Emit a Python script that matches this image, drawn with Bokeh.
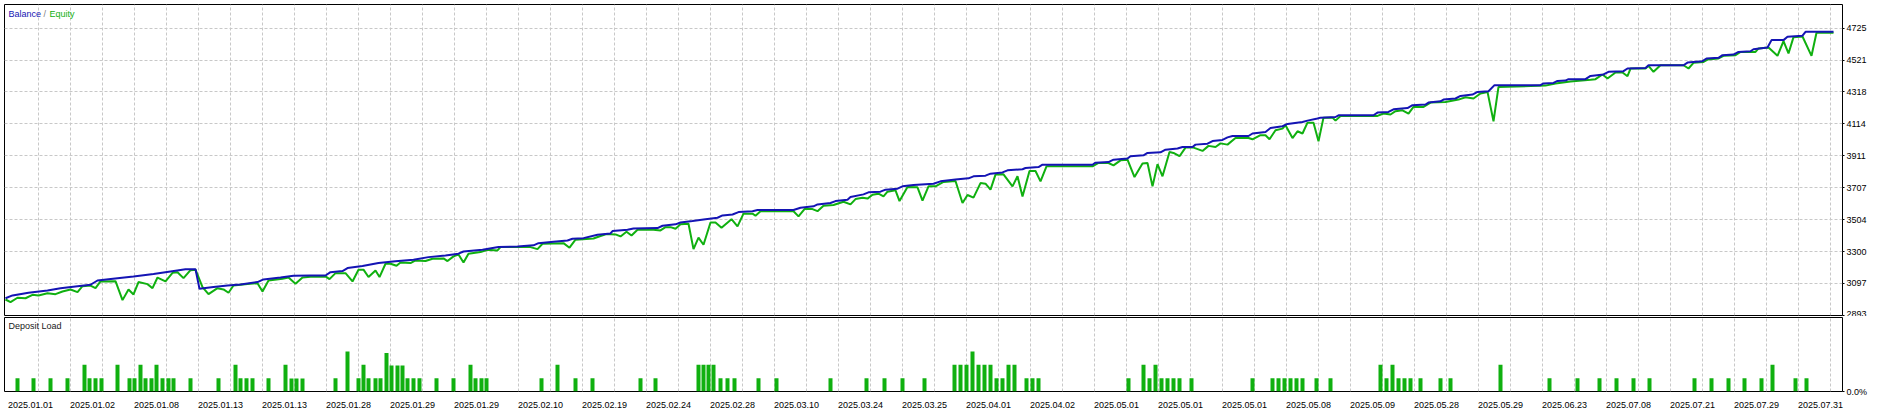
from bokeh.plotting import figure
from bokeh.models import Range1d, FixedTicker, Label
from bokeh.layouts import column
from bokeh.embed import file_html
from bokeh.resources import INLINE

# ---------------- data ----------------
balance_x = [5, 12, 28, 47, 60, 77, 90, 97, 117, 133, 153, 170, 185, 195, 199, 213, 227, 240, 257, 263, 280, 293, 310,
             325, 330, 342, 347, 362, 378, 395, 413, 428, 445, 458, 463, 482, 498, 517, 533, 538, 553, 567, 572, 583, 597, 610,
             612, 627, 633, 657, 662, 675, 680, 692, 705, 717, 722, 732, 738, 752, 757, 793, 800, 813, 817, 830, 835, 847, 850,
             863, 868, 880, 885, 897, 902, 913, 933,
             940, 955, 968, 973, 985, 990, 1002, 1007, 1022, 1025, 1038, 1042, 1092, 1095, 1108, 1113, 1127, 1130, 1143, 1147,
             1160, 1165, 1177, 1182, 1192, 1195, 1207, 1212, 1222, 1227, 1232,
             1248, 1252, 1265, 1270, 1282, 1287, 1302, 1307, 1317, 1320, 1335, 1338, 1373, 1377, 1388, 1393, 1407, 1412, 1425,
             1428, 1440, 1443, 1455, 1460, 1472, 1477, 1488, 1494, 1540, 1543, 1553, 1557, 1565, 1568,
             1585, 1590, 1603, 1608, 1623, 1627, 1645, 1648, 1683, 1687, 1702, 1706, 1718, 1722, 1733, 1738, 1750, 1753, 1767,
             1771, 1783, 1787, 1802, 1805, 1833]
balance_y = [3003, 3021, 3038, 3053, 3067, 3080, 3089, 3116, 3131, 3142, 3157, 3174, 3188, 3188, 3063, 3074, 3084, 3091, 3106, 3123, 3135, 3146, 3148,
             3148, 3169, 3176, 3195, 3208, 3227, 3238, 3248, 3265, 3276, 3287, 3301, 3312, 3329, 3333, 3340, 3354, 3363, 3371, 3382, 3386, 3408, 3416,
             3431, 3440, 3448, 3450, 3465, 3474, 3486, 3495, 3507, 3516, 3531, 3537, 3552, 3557, 3565, 3565, 3580, 3589, 3601, 3610, 3622, 3631, 3648,
             3665, 3678, 3682, 3695, 3701, 3716, 3725, 3733,
             3748, 3759, 3767, 3780, 3784, 3797, 3805, 3818, 3825, 3833, 3839, 3854, 3854, 3867, 3871, 3886, 3893, 3908, 3914, 3929,
             3933, 3950, 3957, 3967, 3967, 3982, 3988, 4005, 4012, 4028, 4037,
             4037, 4053, 4063, 4088, 4099, 4114, 4126, 4135, 4148, 4154, 4158, 4169, 4169, 4186, 4190, 4207, 4215, 4233, 4237,
             4250, 4258, 4269, 4276, 4292, 4301, 4318, 4322, 4361, 4361, 4372, 4375, 4388, 4390, 4399,
             4399, 4420, 4429, 4446, 4450, 4467, 4471, 4488, 4488, 4505, 4514, 4531, 4535, 4552, 4556, 4573, 4577, 4590, 4601,
             4648, 4648, 4669, 4676, 4701, 4701]

equity_x = [5, 10, 17, 25, 32, 38, 47, 55, 62, 70, 77, 82, 90, 95, 100, 115, 122, 128, 133, 138, 147, 152, 157, 165, 172, 177,
            183, 190, 195, 202, 208, 217, 223, 228, 233, 247, 257, 262, 268, 282, 288, 295, 302, 310,
            325, 329, 335, 345, 352, 358, 363, 368, 375, 379, 385, 390, 396, 400, 410, 415, 425, 432, 443, 447, 453, 458, 463,
            468, 480, 487, 497, 500, 530, 537, 542, 563, 569, 575, 593, 600, 606, 615, 620,
            626, 631, 637, 653, 660, 665, 670, 675, 680, 688, 693, 698, 703, 710, 715, 721, 731, 737, 743, 752, 755, 760, 793,
            798, 804, 812, 817, 823, 833, 843, 850, 855, 862, 867, 872, 878, 883, 887, 895, 899, 907, 917, 922, 928,
            935, 943, 955, 962, 967, 973, 980, 985, 990, 995, 1003, 1012, 1017, 1022, 1029, 1035, 1040, 1046, 1092, 1098, 1108,
            1113, 1120, 1127, 1134, 1142, 1147, 1152, 1157, 1162, 1169, 1173, 1179, 1185, 1193, 1202, 1208, 1215, 1220, 1227, 1235,
            1248, 1252, 1260, 1265, 1269, 1275, 1282, 1285, 1292, 1297, 1302, 1307, 1313, 1318, 1323, 1332, 1335, 1340, 1377,
            1383, 1390, 1395, 1402, 1408, 1413, 1423, 1430, 1445, 1458, 1465, 1473, 1480, 1487, 1493, 1498, 1530,
            1545, 1555, 1570, 1590,
            1595, 1602, 1607, 1615, 1622, 1627, 1630, 1645, 1648, 1653, 1660, 1683, 1688, 1693, 1703, 1707, 1718, 1723, 1735,
            1740, 1755, 1758, 1768, 1777, 1783, 1788, 1793, 1802, 1811, 1816, 1833]
equity_y = [2995, 2978, 3006, 3003, 3025, 3021, 3035, 3029, 3046, 3059, 3042, 3080, 3084, 3067, 3110, 3112, 2991, 3059, 3027, 3106, 3093, 3067, 3135, 3110, 3165, 3169,
            3131, 3182, 3185, 3074, 3029, 3067, 3059, 3038, 3084, 3093, 3099, 3046, 3116, 3127, 3135, 3095, 3135, 3140,
            3142, 3125, 3163, 3163, 3110, 3185, 3185, 3138, 3180, 3138, 3223, 3223, 3210, 3231, 3227, 3244, 3240, 3255, 3257, 3240, 3270, 3282, 3231,
            3287, 3297, 3312, 3308, 3329, 3329, 3316, 3350, 3354, 3325, 3376, 3384, 3400, 3412, 3410, 3397,
            3427, 3403, 3440, 3440, 3435, 3456, 3456, 3446, 3474, 3478, 3316, 3389, 3344, 3486, 3486, 3452, 3507, 3461, 3542, 3542, 3529, 3557, 3557,
            3525, 3571, 3571, 3558, 3593, 3597, 3618, 3601, 3635, 3644, 3638, 3663, 3669, 3652, 3682, 3691, 3622, 3712, 3710, 3625, 3716,
            3716, 3744, 3750, 3610, 3661, 3644, 3737, 3733, 3695, 3791, 3793, 3716, 3780, 3652, 3814, 3814, 3748, 3844, 3844, 3865, 3865,
            3850, 3882, 3886, 3775, 3861, 3865, 3716, 3857, 3780, 3935, 3929, 3908, 3963, 3963, 3942, 3974, 3967, 3990, 3982, 4024,
            4024, 4016, 4042, 4042, 4016, 4074, 4084, 4106, 4024, 4067, 4053, 4122, 4122, 4004, 4154, 4154, 4135, 4165, 4165,
            4180, 4174, 4195, 4201, 4180, 4222, 4222, 4250, 4254, 4269, 4284, 4276, 4308, 4318, 4131, 4350, 4355,
            4358, 4372, 4385, 4395,
            4399, 4429, 4403, 4442, 4442, 4418, 4467, 4467, 4484, 4446, 4488, 4488, 4467, 4503, 4509, 4524, 4531, 4548, 4552,
            4573, 4573, 4595, 4601, 4548, 4642, 4563, 4667, 4671, 4548, 4695, 4695]

load_x = [17, 33, 50, 67, 84, 89, 95, 101, 117, 129, 134, 140, 145, 151, 156, 162, 168, 173, 190, 218, 235, 240, 246, 252,
          268, 285, 291, 296, 302, 335, 347, 358, 363, 368, 375, 380, 386, 391, 397, 402, 407, 413, 419, 436, 453, 470, 475,
          481, 486,
          541, 557, 575, 592, 640, 655, 698, 703, 708, 713, 720, 727, 734, 758, 776, 830, 866, 884, 902, 924,
          954, 960, 966, 972, 978, 984, 990, 996, 1002, 1008, 1014, 1026, 1032, 1038,
          1128, 1143, 1149, 1155, 1161, 1167, 1173, 1179, 1191,
          1252, 1272, 1278, 1284, 1290, 1296, 1302, 1316, 1330,
          1380, 1386, 1392, 1398, 1404, 1410, 1420, 1440, 1450, 1500,
          1549, 1577, 1599, 1616, 1633, 1649, 1694, 1711, 1728, 1744, 1761, 1772, 1795, 1806]
load_pct = [9, 9, 9, 9, 18, 9, 9, 9, 18, 9, 9, 18, 9, 9, 18, 9, 9, 9, 9, 9, 18, 9, 9, 9,
            9, 18, 8.7, 8.7, 8.7, 9, 27, 9, 18, 9, 9, 9, 26, 17.5, 17.5, 17.5, 9, 9, 9, 9, 9, 18, 9,
            9, 9,
            9, 18, 9, 9, 9, 9, 18, 18, 18, 18, 9, 9, 9, 9, 9, 9, 9, 9, 9, 9,
            18, 18, 18, 27, 18, 18, 18, 9, 9, 18, 18, 9, 9, 9,
            9, 18, 9, 18, 9, 9, 9, 9, 9,
            9, 9, 9, 9, 9, 9, 9, 9, 9,
            18, 9, 18, 9, 9, 9, 9, 9, 9, 18,
            9, 9, 9, 9, 9, 9, 9, 9, 9, 9, 9, 18, 9, 9]

y_ticks = [2893, 3097, 3300, 3504, 3707, 3911, 4114, 4318, 4521, 4725]
x_labels = ["2025.01.01", "2025.01.02", "2025.01.08", "2025.01.13", "2025.01.13", "2025.01.28", "2025.01.29",
            "2025.01.29", "2025.02.10", "2025.02.19", "2025.02.24", "2025.02.28", "2025.03.10", "2025.03.24",
            "2025.03.25", "2025.04.01", "2025.04.02", "2025.05.01", "2025.05.01", "2025.05.01", "2025.05.08",
            "2025.05.09", "2025.05.28", "2025.05.29", "2025.06.23", "2025.07.08", "2025.07.21", "2025.07.29",
            "2025.07.31"]

# ---------------- style ----------------
FONT = "Liberation Sans"
FS = "9px"
BLUE = "#1414B4"
GREEN = "#10B010"
GRID = "#C8C8C8"

grid_x = [37.7 + 32 * k for k in range(57)]
label_centers = [30] + [int(round(69.7 + 64 * (j - 1) + 22.5)) for j in range(1, len(x_labels))]

xr = Range1d(4, 1842)

top = figure(x_range=xr, y_range=Range1d(2893, 4875), frame_width=1838, frame_height=311,
             output_backend="svg", toolbar_location=None, x_axis_location=None, y_axis_location="right",
             min_border_left=0, min_border_top=0, min_border_bottom=1, min_border_right=0)
top.outline_line_color = "#000000"
top.outline_line_width = 1
top.xgrid.ticker = FixedTicker(ticks=grid_x)
top.ygrid.ticker = FixedTicker(ticks=y_ticks)
for g in (top.xgrid, top.ygrid):
    g.grid_line_color = GRID
    g.grid_line_dash = "3 2"
    g.grid_line_width = 1
ya = top.yaxis[0]
ya.ticker = FixedTicker(ticks=y_ticks)
ya.axis_line_color = None
ya.major_tick_out = 2
ya.major_tick_in = 0
ya.major_tick_line_color = "#000000"
ya.minor_tick_line_color = None
ya.major_label_standoff = 2
ya.major_label_text_font = FONT
ya.major_label_text_font_size = FS
ya.major_label_text_color = "#000000"

top.line(equity_x, equity_y, line_color=GREEN, line_width=2)
top.line(balance_x, balance_y, line_color=BLUE, line_width=2)

top.add_layout(Label(x=8, y=4817, text="Balance", text_color=BLUE, text_font=FONT, text_font_size=FS,
                     text_baseline="middle"))
top.add_layout(Label(x=43, y=4817, text="/", text_color="#808080", text_font=FONT, text_font_size=FS,
                     text_baseline="middle"))
top.add_layout(Label(x=49, y=4817, text="Equity", text_color=GREEN, text_font=FONT, text_font_size=FS,
                     text_baseline="middle"))

bot = figure(x_range=xr, y_range=Range1d(0, 50), frame_width=1838, frame_height=74,
             output_backend="svg", toolbar_location=None, y_axis_location="right",
             min_border_left=0, min_border_top=1, min_border_bottom=0, min_border_right=0)
bot.outline_line_color = "#000000"
bot.outline_line_width = 1
bot.xgrid.ticker = FixedTicker(ticks=grid_x)
bot.xgrid.grid_line_color = GRID
bot.xgrid.grid_line_dash = "3 2"
bot.ygrid.visible = False

bot.vbar(x=load_x, top=load_pct, bottom=0, width=4, fill_color=GREEN, line_color=None)

xa = bot.xaxis[0]
xa.ticker = FixedTicker(ticks=label_centers)
xa.major_label_overrides = {c: t for c, t in zip(label_centers, x_labels)}
xa.axis_line_color = None
xa.major_tick_line_color = None
xa.minor_tick_line_color = None
xa.major_label_standoff = 4
xa.major_label_text_font = FONT
xa.major_label_text_font_size = FS
xa.major_label_text_color = "#000000"

ba = bot.yaxis[0]
ba.ticker = FixedTicker(ticks=[0])
ba.major_label_overrides = {0: "0.0%"}
ba.axis_line_color = None
ba.major_tick_out = 2
ba.major_tick_in = 0
ba.minor_tick_line_color = None
ba.major_label_standoff = 2
ba.major_label_text_font = FONT
ba.major_label_text_font_size = FS
ba.major_label_text_color = "#000000"

bot.add_layout(Label(x=1842, y=50, x_units="screen", text="50.0%", text_font=FONT, text_font_size=FS,
                     text_color="#000000", text_baseline="top", y_offset=-2))
bot.add_layout(Label(x=8, y=44, text="Deposit Load", text_font=FONT, text_font_size=FS,
                     text_color="#202020", text_baseline="middle"))

layout = column(top, bot, spacing=0, margin=(4, 0, 0, 4))

open("out.html", "w").write(file_html(layout, INLINE))
